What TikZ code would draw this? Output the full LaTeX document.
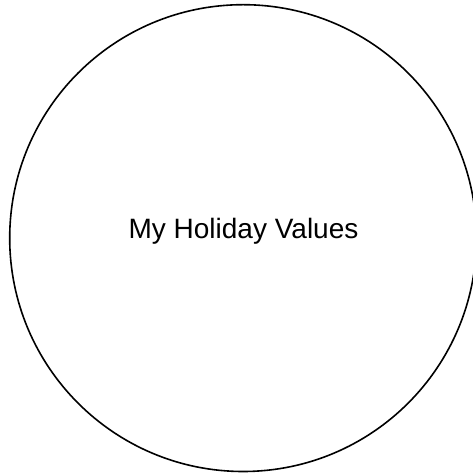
\documentclass[tikz,border=0pt]{standalone}
\usepackage{fontspec}
\setmainfont{Liberation Sans}
\begin{document}
\begin{tikzpicture}[x=1pt,y=1pt,
  ring/.style={draw=black, line width=1.6pt, circle, inner sep=0pt, minimum size=466.8pt},
  label/.style={font=\fontsize{28}{32}\selectfont, inner sep=0pt, anchor=base}]
\useasboundingbox (0,0) rectangle (473,474);
\node[ring] (c) at (243.1,235.9) {};
\node[label] (t) at (243.5,235) {My Holiday Values};
\end{tikzpicture}
\end{document}
